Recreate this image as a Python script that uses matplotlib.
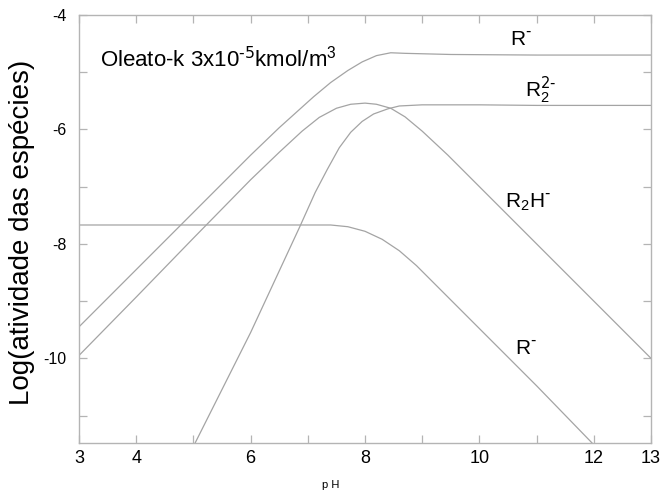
import matplotlib
matplotlib.use("Agg")
import matplotlib.pyplot as plt
from matplotlib.ticker import FixedLocator

plt.rcParams['font.family'] = ['Liberation Sans', 'DejaVu Sans']

# curve values (pH, log activity)
ph_r_top = [3.0, 4.0, 5.0, 6.0, 6.5, 6.8, 7.1, 7.4, 7.7, 7.95, 8.2, 8.45, 8.7, 9.5, 11.0, 13.0]
log_r_top = [-9.45, -8.45, -7.45, -6.45, -5.97, -5.70, -5.43, -5.18, -4.97, -4.82, -4.71, -4.66, -4.67, -4.69, -4.70, -4.70]

ph_r2h = [3.0, 4.0, 5.0, 6.0, 6.5, 6.9, 7.2, 7.5, 7.75, 8.0, 8.2, 8.45, 8.7, 9.0, 9.45, 10.0, 11.0, 12.0, 13.0]
log_r2h = [-9.95, -8.93, -7.90, -6.88, -6.40, -6.03, -5.79, -5.63, -5.56, -5.54, -5.56, -5.63, -5.78, -6.03, -6.45, -7.0, -8.0, -9.0, -10.0]

ph_r2 = [5.03, 6.0, 6.86, 7.13, 7.34, 7.55, 7.75, 7.95, 8.15, 8.4, 8.6, 9.0, 10.0, 11.0, 13.0]
log_r2 = [-11.48, -9.55, -7.70, -7.10, -6.70, -6.32, -6.05, -5.86, -5.73, -5.64, -5.59, -5.57, -5.57, -5.58, -5.58]

ph_r_low = [3.0, 7.4, 7.7, 8.0, 8.3, 8.6, 8.9, 9.2, 9.6, 10.0, 11.0, 11.97]
log_r_low = [-7.67, -7.67, -7.70, -7.78, -7.92, -8.12, -8.38, -8.68, -9.08, -9.48, -10.48, -11.48]

xticks = [3, 4, 5, 6, 7, 8, 9, 10, 11, 12, 13]
xticklabels = ['3', '4', '', '6', '', '8', '', '10', '', '12', '13']
yticks = [-11, -10, -9, -8, -7, -6, -5, -4]
yticklabels = ['', '-10', '', '-8', '', '-6', '', '-4']

fig = plt.figure(figsize=(6.68, 4.91), dpi=100)
ax = fig.add_axes([79 / 668, 1 - 443 / 491, (651 - 79) / 668, (443 - 15) / 491])

line_col = '#a4a4a4'
for xs, ys in [(ph_r_top, log_r_top), (ph_r2h, log_r2h), (ph_r2, log_r2), (ph_r_low, log_r_low)]:
    ax.plot(xs, ys, color=line_col, lw=0.9)

ax.set_xlim(3, 13)
ax.set_ylim(-11.48, -4)
ax.xaxis.set_major_locator(FixedLocator(xticks))
ax.yaxis.set_major_locator(FixedLocator(yticks))
ax.set_xticklabels(xticklabels)
ax.set_yticklabels(yticklabels)

for s in ax.spines.values():
    s.set_color('#b4b4b4')
    s.set_linewidth(1.0)
ax.tick_params(direction='in', length=6, width=0.9, color='#b4b4b4',
               top=True, right=True)
ax.tick_params(axis='x', labelsize=13, pad=5)
ax.tick_params(axis='y', labelsize=11.5, pad=9)

ax.text(3.37, -4.78, r'Oleato-k 3x10$^{\text{-5}}$kmol/m$^{\mathregular{3}}$',
        fontsize=16, ha='left', va='center')
ax.text(10.53, -4.43, r'R$^{\text{-}}$', fontsize=15, ha='left', va='center')
ax.text(10.80, -5.32, r'R$_{\mathregular{2}}^{\text{2-}}$', fontsize=15, ha='left', va='center')
ax.text(10.45, -7.27, r'R$_{\mathregular{2}}$H$^{\text{-}}$', fontsize=15, ha='left', va='center')
ax.text(10.62, -9.83, r'R$^{\text{-}}$', fontsize=15, ha='left', va='center')

fig.text(22 / 668, 1 - 232 / 491, 'Log(atividade das espécies)', rotation=90,
         fontsize=20, ha='center', va='center')
fig.text(331 / 668, 1 - 485 / 491, 'p H', fontsize=8, ha='center', va='center')

fig.savefig('out.png', dpi=100)
